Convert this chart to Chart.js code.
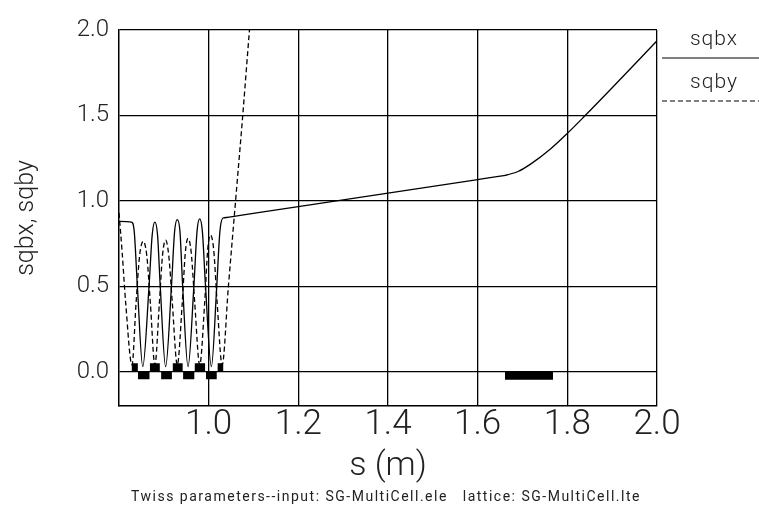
<!DOCTYPE html>
<html>
<head>
<meta charset="utf-8">
<script src="https://cdn.jsdelivr.net/npm/chart.js@4.4.1/dist/chart.umd.min.js"></script>
<style>
html,body{margin:0;padding:0;background:#fff;}
#wrap{position:relative;width:759px;height:516px;}
</style>
</head>
<body>
<div id="wrap"><canvas id="twiss" width="759" height="516"></canvas></div>
<script>
// sqbx (solid)
const sqbxS=[0.800,0.828,0.834,0.841,0.853,0.867,0.874,0.880,0.886,0.892,0.904,0.917,0.924,0.930,0.936,0.942,0.954,0.967,0.974,0.980,0.986,0.993,1.006,1.018,1.025,1.032,1.040,1.060,1.200,1.400,1.600,1.650,1.662,1.690,1.718,1.763,1.800,1.837,1.900,2.000];
const sqbxV=[0.880,0.876,0.82,0.50,0.03,0.50,0.80,0.876,0.80,0.50,0.03,0.50,0.82,0.890,0.82,0.50,0.03,0.50,0.82,0.895,0.82,0.50,0.03,0.50,0.82,0.900,0.903,0.911,0.967,1.046,1.125,1.145,1.150,1.172,1.215,1.305,1.395,1.492,1.662,1.937];
// sqby (dashed)
const sqbyS=[0.800,0.807,0.815,0.829,0.838,0.846,0.854,0.862,0.870,0.880,0.890,0.897,0.904,0.911,0.919,0.930,0.941,0.948,0.954,0.961,0.969,0.980,0.991,0.998,1.004,1.011,1.019,1.030,1.044,1.060,1.076,1.091,1.110];
const sqbyV=[0.930,0.70,0.40,0.04,0.40,0.68,0.764,0.68,0.40,0.04,0.40,0.68,0.770,0.68,0.40,0.04,0.40,0.70,0.780,0.70,0.40,0.04,0.40,0.72,0.800,0.72,0.40,0.04,0.50,1.000,1.500,2.000,2.600];
// lattice elements
const upStart=[0.828,0.869,0.920,0.969,1.020];
const upEnd=[0.842,0.891,0.942,0.992,1.033];
const upH=0.05;
const lowStart=[0.842,0.894,0.943,0.994,1.661];
const lowEnd=[0.868,0.918,0.968,1.018,1.768];
const lowH=[-0.043,-0.043,-0.043,-0.043,-0.047];
const xTicks=[1.0,1.2,1.4,1.6,1.8,2.0];
const yTicks=[0.0,0.5,1.0,1.5,2.0];
const seriesNames=["sqbx","sqby"];

function pts(s,v){return s.map((x,i)=>({x:x,y:v[i]}));}
function boxes(st,en,h){
let p=[];
st.forEach((x,i)=>{
let hh=Array.isArray(h)?h[i]:h;
p.push({x:x,y:0},{x:x,y:hh},{x:en[i],y:hh},{x:en[i],y:0});
});
return p;
}

const FONT="Roboto";
const TXT="#222";

const extras={
id:"extras",
afterDraw(chart){
let ctx=chart.ctx;
ctx.save();
ctx.fillStyle=TXT;
ctx.textAlign="center";
ctx.textBaseline="middle";
ctx.font="300 21px "+FONT;
ctx.letterSpacing="1px";
ctx.fillText(seriesNames[0],714,40);
ctx.fillText(seriesNames[1],714,83);
ctx.strokeStyle="#000";
ctx.lineWidth=1.2;
ctx.beginPath();ctx.moveTo(662,58);ctx.lineTo(759,58);ctx.stroke();
ctx.setLineDash([5,3]);
ctx.beginPath();ctx.moveTo(662,101);ctx.lineTo(759,101);ctx.stroke();
ctx.setLineDash([]);
ctx.font="14px "+FONT;
ctx.letterSpacing="1.5px";
ctx.fillText("Twiss parameters--input: SG-MultiCell.ele   lattice: SG-MultiCell.lte",386,497);
ctx.restore();
}
};

new Chart(document.getElementById("twiss"),{
type:"scatter",
data:{datasets:[
{label:"sqbx",data:pts(sqbxS,sqbxV),showLine:true,borderColor:"#000",borderWidth:1.3,pointRadius:0,cubicInterpolationMode:"monotone"},
{label:"sqby",data:pts(sqbyS,sqbyV),showLine:true,borderColor:"#000",borderWidth:1.3,borderDash:[5,3],pointRadius:0,cubicInterpolationMode:"monotone"},
{label:"up",data:boxes(upStart,upEnd,upH),showLine:true,borderWidth:0,pointRadius:0,fill:"origin",backgroundColor:"#000"},
{label:"low",data:boxes(lowStart,lowEnd,lowH),showLine:true,borderWidth:0,pointRadius:0,fill:"origin",backgroundColor:"#000"}
]},
options:{
responsive:false,
animation:false,
layout:{padding:{top:30,right:102,left:0,bottom:0}},
plugins:{legend:{display:false},tooltip:{enabled:false}},
scales:{
x:{type:"linear",min:0.8,max:2.0,
afterBuildTicks:s=>{s.ticks=xTicks.map(v=>({value:v}));},
afterFit:s=>{s.height=110;},
grid:{color:"#000",lineWidth:1.3,drawTicks:false},
border:{color:"#000",width:1.5},
ticks:{color:TXT,padding:0,font:{family:FONT,size:35,weight:"300",lineHeight:1.1},maxRotation:0,callback:v=>v.toFixed(1)},
title:{display:true,text:"s (m)",color:TXT,font:{family:FONT,size:34,weight:"300"},padding:{top:0,bottom:29}}
},
y:{min:-0.2,max:2.0,
afterBuildTicks:s=>{s.ticks=yTicks.map(v=>({value:v}));},
afterFit:s=>{s.width=119;},
grid:{color:"#000",lineWidth:1.3,drawTicks:false},
border:{color:"#000",width:1.5},
ticks:{color:TXT,padding:10,font:{family:FONT,size:24,weight:"300"},callback:v=>v.toFixed(1)},
title:{display:true,text:"sqbx, sqby",color:TXT,font:{family:FONT,size:25,weight:"300"},padding:{top:12,bottom:0}}
}
}
},
plugins:[extras]
});
</script>
</body>
</html>
